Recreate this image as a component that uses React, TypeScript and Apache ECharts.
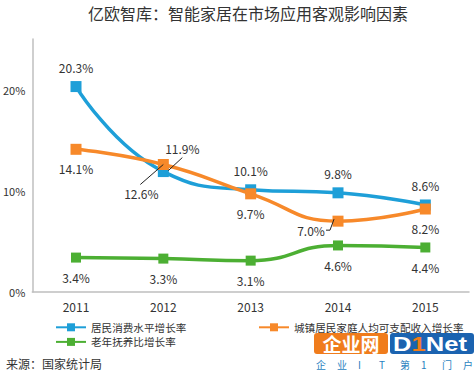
import React, { useEffect, useRef } from "react";
import * as echarts from "echarts";

const years = ["2011", "2012", "2013", "2014", "2015"];
const consumption = [20.3, 11.9, 10.1, 9.8, 8.6];
const income = [14.1, 12.6, 9.7, 7.0, 8.2];
const dependency = [3.4, 3.3, 3.1, 4.6, 4.4];
const seriesNames = ["居民消费水平增长率", "城镇居民家庭人均可支配收入增长率", "老年抚养比增长率"];
const title = "亿欧智库：智能家居在市场应用客观影响因素";
const source = "来源：国家统计局";
const sloganChars = ["企", "业", "I", "T", "第", "1", "门", "户"];

const FONT = "'Noto Sans CJK SC', 'Noto Sans', sans-serif";

// leader-line shapes (pixel offsets from the anchor point), styling only
const LEADER_SHAPES = [
  [[5, -1], [19, -14]],
  [[-23, 20], [0, 0]],
  [[-12, 9], [-8, 9], [-4, -2]],
];

export default function App() {
  const ref = useRef<HTMLDivElement>(null);
  useEffect(() => {
    if (!ref.current) return;
    const chart = echarts.init(ref.current, null, { renderer: "svg" });
    const fmt = (p: any) => Number(p.value).toFixed(1) + "%";
    const labelBase = { show: true, formatter: fmt, color: "#333", fontSize: 12, fontFamily: FONT, distance: 8 };
    const leaderData = [
      [1, consumption[1], 0],
      [1, income[1], 1],
      [3, income[3], 2],
    ];
    chart.setOption({
      animation: false,
      textStyle: { fontFamily: FONT },
      title: {
        text: title,
        left: 83,
        top: 0,
        textStyle: { fontSize: 16, fontWeight: "normal", color: "#333", fontFamily: FONT },
      },
      grid: { left: 30, right: 5, top: 39, bottom: 80 },
      xAxis: {
        type: "category",
        data: years,
        boundaryGap: true,
        axisLine: { lineStyle: { color: "#bfbfbf", width: 1.5 } },
        axisTick: { show: false },
        axisLabel: { color: "#333", fontSize: 12, margin: 8, fontFamily: FONT },
      },
      yAxis: {
        type: "value",
        min: 0,
        max: 25,
        interval: 10,
        axisLine: { show: true, lineStyle: { color: "#bfbfbf", width: 1.5 } },
        axisTick: { show: false },
        splitLine: { show: false },
        axisLabel: {
          color: "#333",
          fontSize: 11,
          margin: 7,
          showMaxLabel: false,
          formatter: (v: number) => (v % 10 === 0 ? v + "%" : ""),
        },
      },
      legend: [
        {
          data: [seriesNames[0], seriesNames[2]],
          orient: "vertical",
          left: 50,
          top: 317,
          itemWidth: 30,
          itemHeight: 10,
          itemGap: 4,
          textStyle: { fontSize: 10.6, color: "#333", fontFamily: FONT },
        },
        {
          data: [seriesNames[1]],
          orient: "vertical",
          left: 253,
          top: 317,
          itemWidth: 30,
          itemHeight: 10,
          textStyle: { fontSize: 10.6, color: "#333", fontFamily: FONT },
        },
      ],
      graphic: [
        {
          type: "text",
          left: 6,
          top: 357,
          style: { text: source, fontSize: 12, fill: "#333", fontFamily: FONT },
        },
        {
          type: "group",
          left: 314,
          top: 333,
          children: [
            { type: "rect", shape: { x: 0, y: 0, width: 74, height: 21, r: 3 }, style: { fill: "#f07c1c" } },
            {
              type: "text",
              x: 37,
              y: 10.5,
              style: {
                text: "企业网",
                fontSize: 19,
                fontWeight: "bold",
                fill: "#fff",
                align: "center",
                verticalAlign: "middle",
                fontFamily: FONT,
              },
            },
            { type: "rect", shape: { x: 76, y: 0, width: 84, height: 21, r: 3 }, style: { fill: "#1b63b0" } },
            {
              type: "text",
              x: 79,
              y: 11,
              scaleX: 1.22,
              style: {
                text: "{a|D}{b|1}{a|Net}",
                verticalAlign: "middle",
                rich: {
                  a: { fontSize: 21, fontWeight: "bold", fill: "#fff", fontFamily: "Liberation Sans" },
                  b: { fontSize: 21, fontWeight: "bold", fill: "#f07c1c", fontFamily: "Liberation Sans" },
                },
              },
            },
            ...sloganChars.map((c, i) => ({
              type: "text",
              x: 2 + i * 21,
              y: 31,
              style: {
                text: c,
                fontSize: 10,
                fill: "#2a7fc0",
                verticalAlign: "middle",
                fontFamily: FONT,
              },
            })),
          ],
        },
      ],
      series: [
        {
          name: seriesNames[0],
          type: "line",
          data: consumption,
          smooth: true,
          symbol: "rect",
          symbolSize: 11,
          itemStyle: { color: "#1e9fd8" },
          lineStyle: { width: 3.5, color: "#1e9fd8" },
          label: { ...labelBase, position: "top" },
          labelLayout: (p: any) => (p.dataIndex === 1 ? { dx: 19, dy: -4 } : {}),
          z: 3,
        },
        {
          name: seriesNames[1],
          type: "line",
          data: income,
          smooth: true,
          symbol: "rect",
          symbolSize: 11,
          itemStyle: { color: "#f7892a" },
          lineStyle: { width: 3.5, color: "#f7892a" },
          label: { ...labelBase, position: "bottom" },
          labelLayout: (p: any) =>
            p.dataIndex === 1 ? { dx: -22, dy: 9 } : p.dataIndex === 3 ? { dx: -27, dy: -10 } : {},
          z: 4,
        },
        {
          name: seriesNames[2],
          type: "line",
          data: dependency,
          smooth: true,
          symbol: "rect",
          symbolSize: 10,
          itemStyle: { color: "#4caf33" },
          lineStyle: { width: 3.5, color: "#4caf33" },
          label: { ...labelBase, position: "bottom", distance: 9 },
          z: 2,
        },
        {
          name: "leaders",
          type: "custom",
          coordinateSystem: "cartesian2d",
          data: leaderData,
          silent: true,
          z: 10,
          encode: { x: 0, y: 1 },
          renderItem: (params: any, api: any) => {
            const pt = api.coord([api.value(0), api.value(1)]);
            const shape = LEADER_SHAPES[api.value(2)];
            return {
              type: "polyline",
              shape: { points: shape.map((o) => [pt[0] + o[0], pt[1] + o[1]]) },
              style: { stroke: "#222", lineWidth: 1, fill: null },
            };
          },
        },
      ],
    });
    return () => chart.dispose();
  }, []);
  return <div ref={ref} style={{ width: 474, height: 372, position: "absolute", left: 0, top: 0 }} />;
}
